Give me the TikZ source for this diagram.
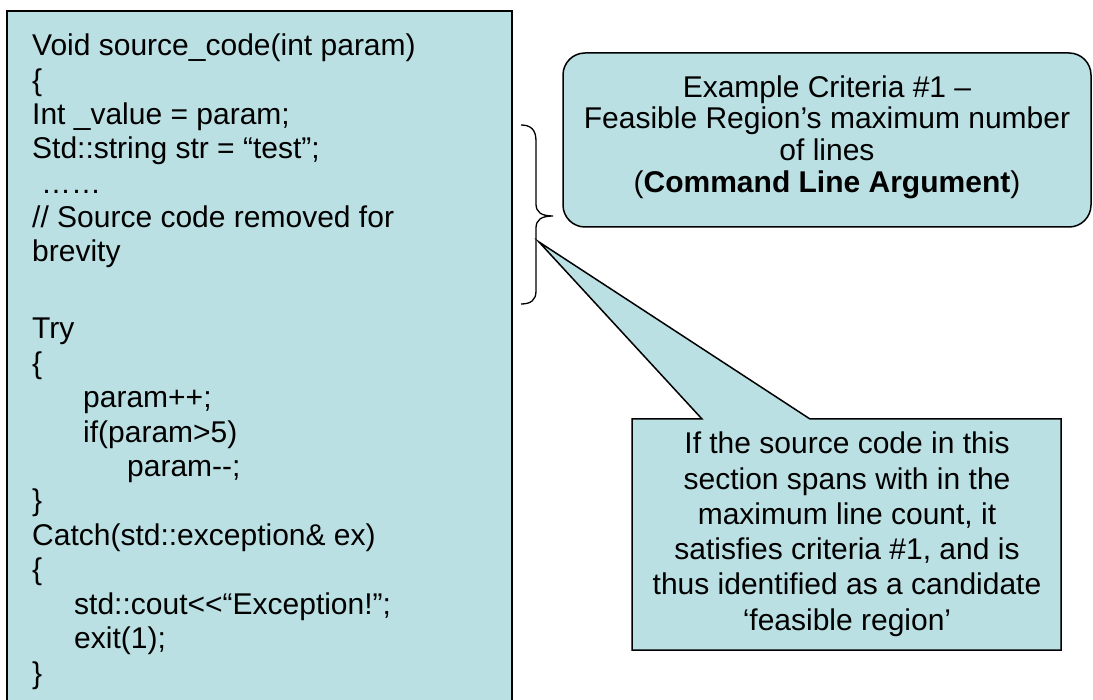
\documentclass[tikz,border=0pt]{standalone}
\usepackage{fontspec}
\setmainfont{Liberation Sans}
\definecolor{panel}{RGB}{187,224,227}
\begin{document}
\begin{tikzpicture}[x=1pt,y=-1pt,
  codeline/.style={anchor=base west,inner sep=0pt,font=\fontsize{30}{34}\selectfont},
  noteline/.style={anchor=base,inner sep=0pt,font=\fontsize{30}{34}\selectfont},
  panelbox/.style={draw=black,line width=1.8pt,fill=panel},
  bracepath/.style={draw=black,line width=1.3pt}]
\useasboundingbox (0,0) rectangle (1093,700);

% source listing panel (runs off the bottom of the page)
\path[panelbox] (7,11) rectangle (512,720);
\node[codeline] (l0)  at (32,56)    {Void source\_code(int param)};
\node[codeline] (l1)  at (32,90.3)  {\{};
\node[codeline] (l2)  at (32,124.6) {Int \_value = param;};
\node[codeline] (l3)  at (32,158.9) {Std::string str = “test”;};
\node[codeline] (l4)  at (41,193.2) {……};
\node[codeline] (l5)  at (32,227.5) {// Source code removed for};
\node[codeline] (l6)  at (32,261.8) {brevity};
\node[codeline] (l8)  at (32,339)   {Try};
\node[codeline] (l9)  at (32,373.4) {\{};
\node[codeline] (l10) at (83,407.8) {param++;};
\node[codeline] (l11) at (83,442.2) {if(param>5)};
\node[codeline] (l12) at (127,476.6){param-{}-;};
\node[codeline] (l13) at (32,511)   {\}};
\node[codeline] (l14) at (32,545.4) {Catch(std::exception\& ex)};
\node[codeline] (l15) at (32,579.8) {\{};
\node[codeline] (l16) at (74,614.2) {std::cout<{}<“Exception!”;};
\node[codeline] (l17) at (74,648.6) {exit(1);};
\node[codeline] (l18) at (32,683)   {\}};

% brace marking the candidate section
\path[bracepath] (521,125) .. controls (531,125) and (536,130) .. (536,141)
  -- (536,204) .. controls (536,212) and (541,216) .. (553,216)
  .. controls (541,216) and (536,220) .. (536,228)
  -- (536,291) .. controls (536,300) and (531,304) .. (521,304);

% criteria panel
\path[panelbox,line width=1.5pt,rounded corners=22pt] (563,53) rectangle (1091,227);
\node[noteline] (c1) at (827,98)  {Example Criteria \#1 –};
\node[noteline] (c2) at (827,129) {Feasible Region’s maximum number};
\node[noteline] (c3) at (827,161) {of lines};
\node[noteline] (c4) at (827,193) {(\textbf{Command Line Argument})};

% speech callout pointing at the brace
\coordinate (tip) at (539,242);
\path[panelbox,line width=1.5pt] (632,419) -- (702,419) -- (tip) -- (810,419)
  -- (1061,419) -- (1061,650) -- (632,650) -- cycle;
\node[noteline] (n1) at (847,454)   {If the source code in this};
\node[noteline] (n2) at (847,489.2) {section spans with in the};
\node[noteline] (n3) at (847,524.4) {maximum line count, it};
\node[noteline] (n4) at (847,559.6) {satisfies criteria \#1, and is};
\node[noteline] (n5) at (847,594.8) {thus identified as a candidate};
\node[noteline] (n6) at (847,630)   {‘feasible region’};
\end{tikzpicture}
\end{document}
